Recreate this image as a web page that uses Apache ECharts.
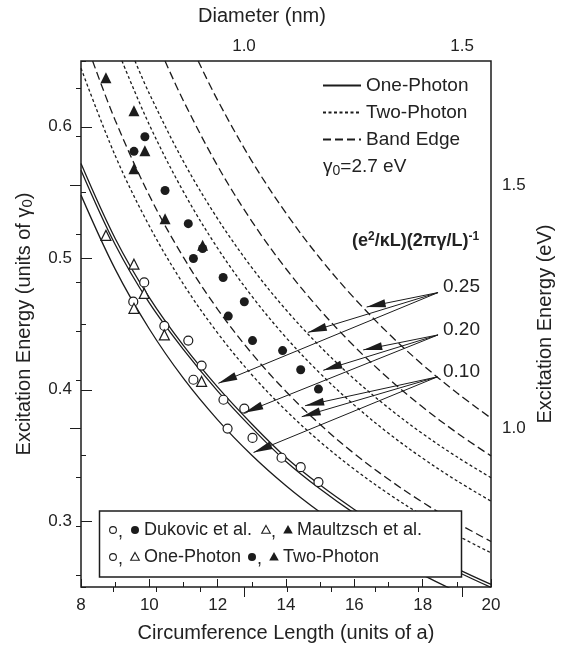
<!DOCTYPE html>
<html>
<head>
<meta charset="utf-8">
<script src="https://cdn.jsdelivr.net/npm/echarts@6/dist/echarts.min.js"></script>
<style>
  html, body { margin: 0; padding: 0; background: #fff; }
  #chart { width: 572px; height: 649px; }
</style>
</head>
<body>
<div id="chart"></div>
<script>
// circumference length L (units of a) and energies (units of gamma0)
const oneL  = [8, 9, 10, 11, 12, 13, 14, 15, 16, 17, 18, 19, 20];
const one25 = [0.572, 0.515, 0.470, 0.4335, 0.402, 0.374, 0.3485, 0.3275, 0.309, 0.2925, 0.2775, 0.264, 0.252];
const one20 = [0.567, 0.5105, 0.466, 0.4305, 0.399, 0.371, 0.3455, 0.3245, 0.306, 0.2898, 0.275, 0.2618, 0.2497];
const one10 = [0.548, 0.4917, 0.4462, 0.4086, 0.3771, 0.3502, 0.327, 0.3068, 0.289, 0.2733, 0.2592, 0.2465, 0.2351];

// two-photon
const tpL10 = [8, 9, 10, 11, 12, 13, 14, 15, 16, 17, 18, 19, 20];
const tp10  = [0.6445, 0.5781, 0.5245, 0.4802, 0.4431, 0.4114, 0.3842, 0.3604, 0.3395, 0.3209, 0.3043, 0.2894, 0.276];
const tpL20 = [9.2, 10, 11, 12, 13, 14, 15, 16, 17, 18, 19, 20];
const tp20  = [0.65, 0.6015, 0.5505, 0.5076, 0.4712, 0.4397, 0.4124, 0.3883, 0.3669, 0.3479, 0.3308, 0.3153];
const tpL25 = [9.58, 10, 11, 12, 13, 14, 15, 16, 17, 18, 19, 20];
const tp25  = [0.65, 0.6252, 0.5735, 0.53, 0.4929, 0.4608, 0.4328, 0.4081, 0.3862, 0.3666, 0.349, 0.3331];

// band edge
const beL10 = [8.34, 9, 10, 11, 12, 13, 14, 15, 16, 17, 18, 19, 20];
const be10  = [0.65, 0.605, 0.5477, 0.5006, 0.4612, 0.4276, 0.3987, 0.3735, 0.3514, 0.3319, 0.3144, 0.2988, 0.2846];
const beL20 = [10.46, 11, 12, 13, 14, 15, 16, 17, 18, 19, 20];
const be20  = [0.65, 0.6196, 0.5701, 0.5281, 0.492, 0.4606, 0.433, 0.4086, 0.3868, 0.3673, 0.3497];
const beL25 = [11.43, 12, 13, 14, 15, 16, 17, 18, 19, 20];
const be25  = [0.65, 0.6201, 0.5739, 0.5343, 0.4998, 0.4696, 0.4428, 0.419, 0.3977, 0.3784];

// experiments
const dukOneX = [9.53, 9.85, 10.44, 11.14, 11.29, 11.53, 12.17, 12.29, 12.78, 13.02, 13.87, 14.43, 14.95];
const dukOneY = [0.467, 0.4816, 0.4485, 0.4374, 0.4076, 0.4184, 0.3924, 0.3705, 0.3856, 0.3634, 0.3483, 0.3411, 0.3298];
const dukTwoX = [9.55, 9.87, 10.46, 11.14, 11.29, 11.56, 12.16, 12.31, 12.78, 13.02, 13.90, 14.43, 14.95];
const dukTwoY = [0.5813, 0.5924, 0.5515, 0.5263, 0.4998, 0.5074, 0.4854, 0.456, 0.4669, 0.4374, 0.4298, 0.4152, 0.4005];
const mauOneX = [8.73, 9.55, 9.85, 9.55, 10.44, 11.53];
const mauOneY = [0.5174, 0.4955, 0.4733, 0.4619, 0.4417, 0.4063];
const mauTwoX = [8.73, 9.55, 9.87, 9.55, 10.46, 11.56];
const mauTwoY = [0.6373, 0.6121, 0.5818, 0.568, 0.530, 0.5098];

// (e^2/kL)(2pi gamma/L)^-1 labels and their arrows (tail -> head), data units
const strengths = ['0.25', '0.20', '0.10'];
const arrowFrom = [[18.45, 0.4739], [18.45, 0.4417], [18.43, 0.4098]];
const arrowTo = [
    [[16.36, 0.4629], [14.64, 0.4436], [12.02, 0.4049]],
    [[16.26, 0.4303], [15.09, 0.4148], [12.78, 0.3826]],
    [[14.56, 0.3879], [14.46, 0.3795], [13.05, 0.3523]]
];

// axis ranges / extra scales
const xMin = 8, xMax = 20, yMin = 0.25, yMax = 0.65;
const diamMinor = [0.7, 1.5], diamMajor = [1.0, 1.5];
const evMinor = [0.7, 1.7], evMajor = [1.0, 1.5];
const nmPerA = 0.246 / Math.PI;   // diameter (nm) per unit of circumference
const gamma0 = 2.7;               // eV

const G = { left: 81, top: 61, width: 410, height: 526 };
const px = L => G.left + (L - xMin) / (xMax - xMin) * G.width;
const py = v => G.top + (yMax - v) / (yMax - yMin) * G.height;

const ink = '#1c1c1c';
const font = 'Liberation Sans, Arial, Helvetica, sans-serif';
const pairs = (xs, ys) => xs.map((x, i) => [x, ys[i]]);

const hiddenX = i => ({ gridIndex: i, type: 'value', min: 0, max: 1, show: false });
const hiddenY = i => ({ gridIndex: i, type: 'value', min: 0, max: 1, show: false });
const noLine = { show: false };
const noSplit = { show: false };

function curve(name, xs, ys, dash) {
    return {
        name, type: 'line', data: pairs(xs, ys), smooth: 0.35, symbol: 'none',
        clip: true, silent: true, z: 3,
        itemStyle: { color: ink },
        lineStyle: { color: ink, width: 1.3, type: dash }
    };
}
function dots(name, xs, ys, symbol, size, filled) {
    return {
        name, type: 'scatter', data: pairs(xs, ys), symbol, symbolSize: size, silent: true, z: 4,
        itemStyle: filled ? { color: ink, opacity: 1 } : { color: '#fff', borderColor: ink, borderWidth: 1.2, opacity: 1 }
    };
}

let arrows = [];
arrowTo.forEach((group, g) => group.forEach(to => arrows.push({ coords: [arrowFrom[g], to] })));

// legend box at the bottom
const sym = {
    oc: (x, y) => ({ type: 'circle', z: 101, shape: { cx: x, cy: y, r: 3.4 }, style: { fill: '#fff', stroke: ink, lineWidth: 1.1 } }),
    fc: (x, y) => ({ type: 'circle', z: 101, shape: { cx: x, cy: y, r: 4 }, style: { fill: ink } }),
    ot: (x, y) => ({ type: 'polygon', z: 101, shape: { points: [[x, y - 4.5], [x + 4.3, y + 3.2], [x - 4.3, y + 3.2]] }, style: { fill: '#fff', stroke: ink, lineWidth: 1.1 } }),
    ft: (x, y) => ({ type: 'polygon', z: 101, shape: { points: [[x, y - 5], [x + 4.8, y + 3.5], [x - 4.8, y + 3.5]] }, style: { fill: ink } })
};
const txt = (x, y, text, size, extra) => ({
    type: 'text', x, y, z: 101,
    style: Object.assign({ text, fill: '#222', fontSize: size, fontFamily: font, verticalAlign: 'middle' }, extra || {})
});
function entry(x, y, a, b, label) {
    return [sym[a](x, y), txt(x + 5, y + 2, ',', 18), sym[b](x + 22, y), txt(x + 31, y, label, 18)];
}

const graphic = [
    txt(262, 16, 'Diameter (nm)', 20, { align: 'center' }),
    txt(323, 167, 'γ{s|0}=2.7 eV', 19, { rich: { s: { fontSize: 14, fontFamily: font, fill: '#222', padding: [8, 0, 0, 0] } } }),
    txt(352, 241, '(e{p|2}/κL)(2πγ/L){p|-1}', 18, {
        fontWeight: 'bold',
        rich: { p: { fontSize: 12, fontWeight: 'bold', fontFamily: font, fill: '#222', padding: [0, 0, 9, 0] } }
    }),
    { type: 'rect', z: 100, shape: { x: 99.5, y: 511, width: 362, height: 66 }, style: { fill: '#fff', stroke: ink, lineWidth: 1.5 } }
].concat(
    strengths.map((s, i) => txt(443, [287, 330, 372][i], s, 19)),
    entry(113, 530, 'oc', 'fc', 'Dukovic et al.'),
    entry(266, 530, 'ot', 'ft', 'Maultzsch et al.'),
    entry(113, 557, 'oc', 'ot', 'One-Photon'),
    entry(252, 557, 'fc', 'ft', 'Two-Photon')
);

const chart = echarts.init(document.getElementById('chart'));
chart.setOption({
    animation: false,
    textStyle: { fontFamily: font, color: '#222' },
    grid: [
        Object.assign({ show: true, borderColor: ink, borderWidth: 1.5, backgroundColor: 'transparent', containLabel: false, outerBoundsMode: 'none' }, G),
        { left: G.left, width: G.width, top: py(0.6), height: py(0.3) - py(0.6), containLabel: false, outerBoundsMode: 'none' },
        { left: px(diamMinor[0] / nmPerA), width: px(diamMinor[1] / nmPerA) - px(diamMinor[0] / nmPerA), top: G.top, height: G.height, containLabel: false, outerBoundsMode: 'none' },
        { left: px(diamMajor[0] / nmPerA), width: px(diamMajor[1] / nmPerA) - px(diamMajor[0] / nmPerA), top: G.top, height: G.height, containLabel: false, outerBoundsMode: 'none' },
        { left: G.left, width: G.width, top: py(evMinor[1] / gamma0), height: py(evMinor[0] / gamma0) - py(evMinor[1] / gamma0), containLabel: false, outerBoundsMode: 'none' },
        { left: G.left, width: G.width, top: py(evMajor[1] / gamma0), height: py(evMajor[0] / gamma0) - py(evMajor[1] / gamma0), containLabel: false, outerBoundsMode: 'none' }
    ],
    legend: {
        data: ['One-Photon', 'Two-Photon', 'Band Edge'],
        orient: 'vertical', left: 322, top: 76, itemWidth: 38, itemHeight: 12, itemGap: 8,
        selectedMode: false, padding: 0,
        itemStyle: { opacity: 0 },
        textStyle: { fontSize: 19, color: '#222', fontFamily: font, lineHeight: 19 }
    },
    xAxis: [
        {
            gridIndex: 0, type: 'value', min: xMin, max: xMax, interval: 2, position: 'bottom',
            axisLine: noLine, splitLine: noSplit,
            axisTick: { inside: true, length: 8, lineStyle: { color: ink } },
            minorTick: { show: true, splitNumber: 2, length: 5, lineStyle: { color: ink } },
            axisLabel: { fontSize: 17, color: '#222', margin: 10 },
            name: 'Circumference Length (units of a)', nameLocation: 'middle', nameGap: 36,
            nameTextStyle: { fontSize: 20, color: '#222' }
        },
        hiddenX(1),
        {
            gridIndex: 2, type: 'value', min: diamMinor[0], max: diamMinor[1], interval: 0.1, position: 'top',
            axisLine: noLine, splitLine: noSplit, axisLabel: { show: false },
            axisTick: { inside: true, length: 5, lineStyle: { color: ink } }
        },
        {
            gridIndex: 3, type: 'value', min: diamMajor[0], max: diamMajor[1], interval: 0.5, position: 'top',
            axisLine: noLine, splitLine: noSplit,
            axisTick: { inside: true, length: 10, lineStyle: { color: ink } },
            axisLabel: { fontSize: 17, color: '#222', margin: 6, formatter: v => v.toFixed(1) }
        },
        hiddenX(4),
        hiddenX(5)
    ],
    yAxis: [
        {
            gridIndex: 0, type: 'value', min: yMin, max: yMax, interval: 0.05,
            axisLine: noLine, splitLine: noSplit, axisLabel: { show: false },
            axisTick: { inside: true, length: 5, lineStyle: { color: ink } }
        },
        {
            gridIndex: 1, type: 'value', min: 0.3, max: 0.6, interval: 0.1,
            axisLine: noLine, splitLine: noSplit,
            axisTick: { inside: true, length: 11, lineStyle: { color: ink } },
            axisLabel: { fontSize: 17, color: '#222', margin: 9, formatter: v => v.toFixed(1) },
            name: 'Excitation Energy (units of γ{s|0})', nameLocation: 'middle', nameGap: 46, nameRotate: 90,
            nameTextStyle: { fontSize: 20, color: '#222', rich: { s: { fontSize: 15, color: '#222', padding: [7, 0, 0, 0] } } }
        },
        hiddenY(2),
        hiddenY(3),
        {
            gridIndex: 4, type: 'value', min: evMinor[0], max: evMinor[1], interval: 0.1, position: 'right',
            axisLine: noLine, splitLine: noSplit, axisLabel: { show: false },
            axisTick: { inside: true, length: 5, lineStyle: { color: ink } }
        },
        {
            gridIndex: 5, type: 'value', min: evMajor[0], max: evMajor[1], interval: 0.5, position: 'right',
            axisLine: noLine, splitLine: noSplit,
            axisTick: { inside: true, length: 11, lineStyle: { color: ink } },
            axisLabel: { fontSize: 17, color: '#222', margin: 11, formatter: v => v.toFixed(1) }
        },
        {
            gridIndex: 0, type: 'value', min: 0, max: 1, position: 'right',
            axisLine: noLine, splitLine: noSplit, axisTick: { show: false }, axisLabel: { show: false },
            name: 'Excitation Energy (eV)', nameLocation: 'middle', nameGap: 44, nameRotate: 90,
            nameTextStyle: { fontSize: 20, color: '#222' }
        }
    ],
    series: [
        curve('One-Photon', oneL, one25, 'solid'),
        curve('One-Photon', oneL, one20, 'solid'),
        curve('One-Photon', oneL, one10, 'solid'),
        curve('Two-Photon', tpL10, tp10, [3, 2.5]),
        curve('Two-Photon', tpL20, tp20, [3, 2.5]),
        curve('Two-Photon', tpL25, tp25, [3, 2.5]),
        curve('Band Edge', beL10, be10, [8, 4]),
        curve('Band Edge', beL20, be20, [8, 4]),
        curve('Band Edge', beL25, be25, [8, 4]),
        dots('Dukovic one', dukOneX, dukOneY, 'circle', 9, false),
        dots('Dukovic two', dukTwoX, dukTwoY, 'circle', 9, true),
        dots('Maultzsch one', mauOneX, mauOneY, 'triangle', 10, false),
        dots('Maultzsch two', mauTwoX, mauTwoY, 'triangle', 11, true),
        {
            name: 'arrows', type: 'lines', coordinateSystem: 'cartesian2d', xAxisIndex: 0, yAxisIndex: 0,
            data: arrows, silent: true, z: 5,
            symbol: ['none', 'path://M0,0 L0,0 M38,0 L38,0 M19,19 L23,38 L15,38 Z'], symbolSize: [1, 38],
            itemStyle: { color: ink },
            lineStyle: { color: ink, width: 1, opacity: 1, curveness: 0 }
        }
    ],
    graphic
});
</script>
</body>
</html>
